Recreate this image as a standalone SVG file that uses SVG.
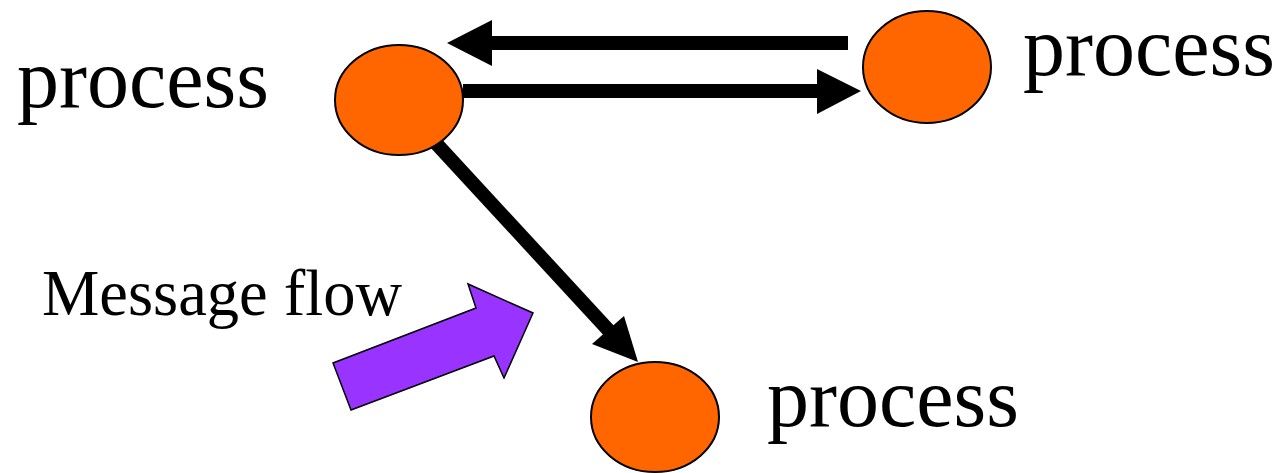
<svg xmlns="http://www.w3.org/2000/svg" width="1284" height="473" viewBox="0 0 1284 473">
<style>
.node{fill:#FF6600;stroke:#000;stroke-width:2}
.lbl{font-family:"Liberation Serif","Times New Roman",serif;fill:#000}
.conn{stroke:#000;stroke-width:14;fill:none}
.head{fill:#000;stroke:none}
</style>
<rect width="1284" height="473" fill="#fff"/>
<g id="connectors">
<line class="conn" x1="848" y1="43" x2="485" y2="43"/>
<polygon class="head" points="447,43 492,20 492,66"/>
<line class="conn" x1="463" y1="91" x2="822" y2="91"/>
<polygon class="head" points="861,91 817,69 817,114"/>
<line class="conn" x1="433" y1="140" x2="612" y2="334"/>
<polygon class="head" points="638,362 592,344 624,316"/>
</g>
<g id="node-left">
<ellipse class="node" cx="399" cy="100" rx="64" ry="55"/>
<text class="lbl" x="17" y="107" font-size="84">process</text>
</g>
<g id="node-right">
<ellipse class="node" cx="927" cy="67" rx="64" ry="56"/>
<text class="lbl" x="1023" y="75" font-size="84">process</text>
</g>
<g id="node-bottom">
<ellipse class="node" cx="655" cy="417" rx="64" ry="55"/>
<text class="lbl" x="767" y="426" font-size="84">process</text>
</g>
<g id="message-flow">
<polygon points="351,410 333,363 476,308 468,284 533,313 504,378 494,356" fill="#9933FF" stroke="#000" stroke-width="1.5"/>
<text class="lbl" x="42" y="315" font-size="64.5">Message flow</text>
</g>
</svg>
